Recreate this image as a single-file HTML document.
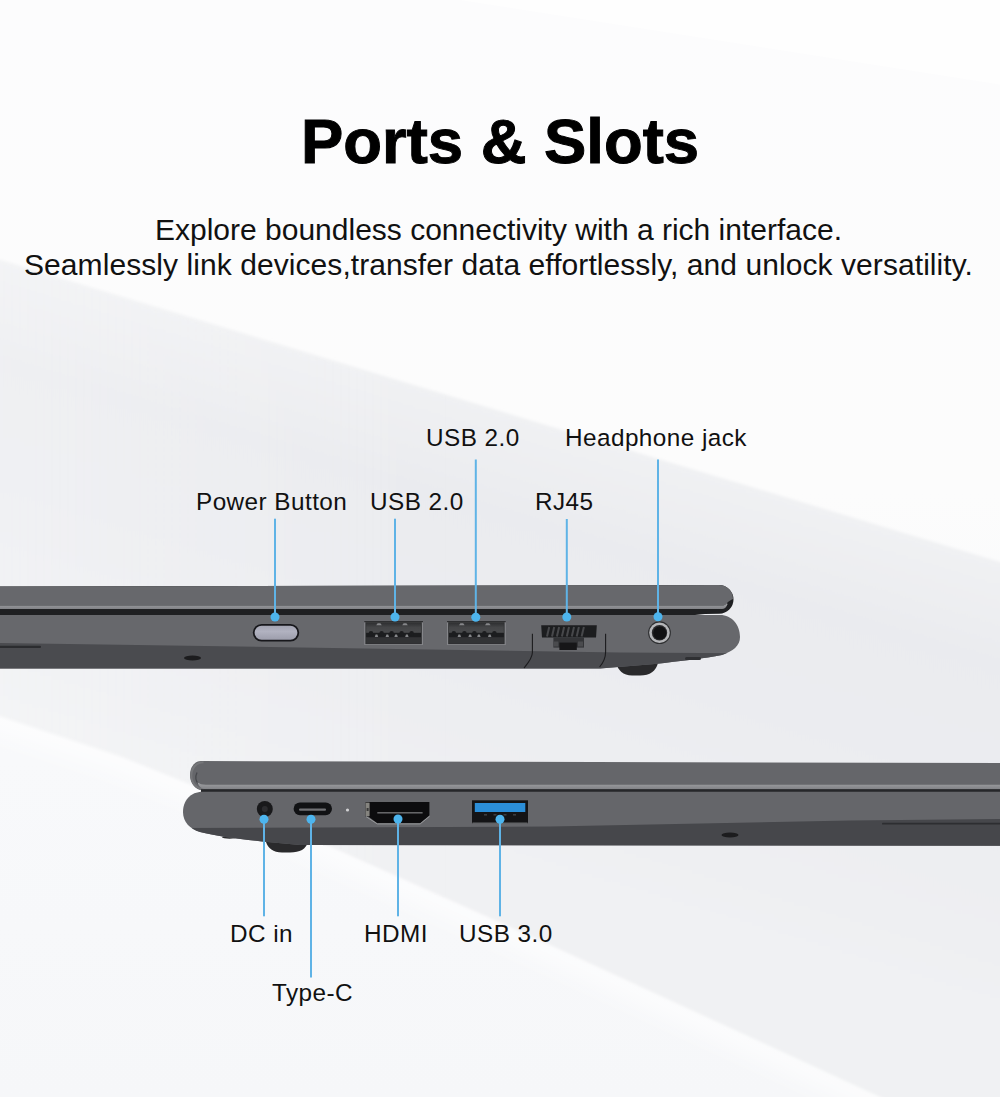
<!DOCTYPE html>
<html>
<head>
<meta charset="utf-8">
<style>
html,body{margin:0;padding:0;}
body{width:1000px;height:1097px;overflow:hidden;position:relative;background:#f7f7f8;font-family:"Liberation Sans",sans-serif;color:#0d0d0d;}
#bg{position:absolute;left:0;top:0;}
.t{position:absolute;white-space:nowrap;}
.title{left:0;width:1000px;text-align:center;top:110.3px;font-size:63.4px;line-height:63.4px;font-weight:bold;color:#000;-webkit-text-stroke:1px #000;}
.sub{left:0;width:997px;text-align:center;font-size:30px;line-height:30px;color:#111;}
.lb{font-size:24.3px;line-height:24.3px;letter-spacing:0.45px;color:#111;}
#lap{position:absolute;left:0;top:0;}
</style>
</head>
<body>
<svg id="bg" width="1000" height="1097" viewBox="0 0 1000 1097">
  <defs>
    <filter id="soft" x="-10%" y="-10%" width="120%" height="120%"><feGaussianBlur stdDeviation="1.5"/></filter>
    <filter id="glow" x="-20%" y="-20%" width="140%" height="140%"><feGaussianBlur stdDeviation="10"/></filter>
    <linearGradient id="bgg" x1="0" y1="0" x2="0" y2="1">
      <stop offset="0" stop-color="#fcfcfd"/><stop offset="0.45" stop-color="#fcfcfc"/><stop offset="0.69" stop-color="#f8f9fb"/><stop offset="1" stop-color="#f6f7f9"/>
    </linearGradient>
    <linearGradient id="grg" gradientUnits="userSpaceOnUse" x1="500" y1="411" x2="375" y2="822">
      <stop offset="0" stop-color="#f0f1f3"/><stop offset="0.22" stop-color="#eaebef"/><stop offset="0.5" stop-color="#ebecf0"/><stop offset="0.85" stop-color="#eeeff2"/><stop offset="1" stop-color="#f0f1f3"/>
    </linearGradient>
    <linearGradient id="lft" gradientUnits="userSpaceOnUse" x1="0" y1="0" x2="450" y2="0">
      <stop offset="0" stop-color="#ffffff" stop-opacity="0.22"/><stop offset="1" stop-color="#ffffff" stop-opacity="0"/>
    </linearGradient>
  </defs>
  <rect x="0" y="0" width="1000" height="1097" fill="url(#bgg)"/>
  <polygon points="460,0 1010,0 1010,86" fill="#fefefe"/>
  <polyline points="-30,706 0,716 120,756 200,788 550,945 880,1097 1030,1165" stroke="#ffffff" stroke-opacity="0.6" stroke-width="36" fill="none" filter="url(#glow)"/>
  <polygon points="-30,251 1030,571 1030,1165 880,1097 550,945 200,788 120,756 0,716 -30,706" fill="url(#grg)" filter="url(#soft)"/>
  <polygon points="-30,251 1030,571 1030,1165 880,1097 550,945 200,788 120,756 0,716 -30,706" fill="url(#lft)" filter="url(#soft)"/>
</svg>

<div class="t title">Ports &amp; Slots</div>
<div class="t sub" style="top:215px">Explore boundless connectivity with a rich interface.</div>
<div class="t sub" style="top:250px;letter-spacing:0.07px">Seamlessly link devices,transfer data effortlessly, and unlock versatility.</div>

<div class="t lb" style="left:426px;top:426.2px">USB 2.0</div>
<div class="t lb" style="left:565px;top:426.2px">Headphone jack</div>
<div class="t lb" style="left:196px;top:490.4px">Power Button</div>
<div class="t lb" style="left:370px;top:490.4px">USB 2.0</div>
<div class="t lb" style="left:535px;top:490.4px">RJ45</div>
<div class="t lb" style="left:230px;top:922.2px">DC in</div>
<div class="t lb" style="left:364px;top:922.2px">HDMI</div>
<div class="t lb" style="left:459px;top:922.2px">USB 3.0</div>
<div class="t lb" style="left:272px;top:981.1px">Type-C</div>

<svg id="lap" width="1000" height="1097" viewBox="0 0 1000 1097">
<defs>
  <linearGradient id="usbg" x1="0" y1="0" x2="0" y2="1"><stop offset="0" stop-color="#2f3032"/><stop offset="0.45" stop-color="#454648"/><stop offset="1" stop-color="#4a4b4d"/></linearGradient>
  <linearGradient id="pbg" x1="0" y1="0" x2="0" y2="1"><stop offset="0" stop-color="#a3a4b2"/><stop offset="0.4" stop-color="#b1b2c0"/><stop offset="1" stop-color="#9d9eac"/></linearGradient>
  <linearGradient id="hl" x1="0" y1="0" x2="0" y2="1"><stop offset="0" stop-color="#a2a3a6"/><stop offset="1" stop-color="#818286"/></linearGradient>
  <clipPath id="baseTop"><path d="M-5,615 H720 C732,615 740,625 740,637 C740,646 733,651 722,655 C705,658.5 680,661 655,664 L600,668.5 H-5 Z"/></clipPath>
  <clipPath id="baseBot"><path d="M1005,791.8 H203 C190,791.8 183,801 183,812 C183,822 190,829 200,832 C215,836 240,839 262,841.5 L300,845 L1005,845.8 Z"/></clipPath>
</defs>
<!-- ===== TOP LAPTOP ===== -->
<!-- foot -->
<path d="M616,663 H658 C656,671 650,675.5 640,675.5 H632 C623,675.5 618,670 616,663 Z" fill="#2a2a2c"/>
<!-- lid dark -->
<path d="M-5,586.5 L719,585 A14.5,14.5 0 0 1 733.5,599.5 A14.2,14.2 0 0 1 719.3,613.7 L705,614 L690,615.5 H-5 Z" fill="#1f2022"/>
<!-- lid upper -->
<path d="M-5,586.5 L719,585 A14,14 0 0 1 733,599 C731,600 728.5,601 727,603 C725.5,605 724,605.5 722,605.5 H-5 Z" fill="#67686c"/>
<!-- lid highlight -->
<path d="M-5,605.5 H722 C724,605.5 725.5,605 727,603 L727.5,604.5 C726,607.5 724.5,609 722,609 H-5 Z" fill="url(#hl)"/>
<!-- base -->
<g clip-path="url(#baseTop)">
  <rect x="-5" y="615" width="760" height="60" fill="#67686c"/>
  <polygon points="-5,643 300,647.5 620,652.5 760,653.3 760,700 -5,700" fill="#4a4b4f"/>
</g>
<rect x="-5" y="645.8" width="46" height="2.2" rx="1" fill="#2b2c2f"/>
<ellipse cx="192.5" cy="658" rx="8.5" ry="2.4" fill="#1c1c1e"/>
<rect x="685" y="657" width="16" height="3" rx="1.5" fill="#2f3033"/>

<!-- power button -->
<rect x="252.8" y="624" width="46.4" height="17.6" rx="8.8" fill="#17171b"/>
<rect x="254.6" y="625.8" width="42.8" height="14" rx="7" fill="url(#pbg)"/>

<!-- USB 2.0 #1 -->
<g>
  <rect x="364.2" y="621" width="58.8" height="24" fill="#85868a"/>
  <rect x="364.2" y="621" width="58.8" height="1.3" fill="#2e2f31"/>
  <rect x="365.4" y="622.2" width="56.4" height="21.9" fill="#2c2d2f"/>
  <rect x="366.2" y="623" width="54.8" height="10" fill="url(#usbg)"/>
  <rect x="366.2" y="637" width="54.8" height="6.6" fill="#323335"/>
  <rect x="366.2" y="632.8" width="54.8" height="4.4" fill="#1c1d1f"/>
  <g fill="#1c1d1f"><circle cx="371" cy="633.4" r="2.3"/><circle cx="381.6" cy="633.4" r="2.3"/><circle cx="391.6" cy="633.4" r="2.3"/><circle cx="401.6" cy="633.4" r="2.3"/><circle cx="411.6" cy="633.4" r="2.3"/></g>
  <g fill="#86878a">
    <path d="M374.8,637 L375.6,634.4 H377.4 L378.2,637 Z"/>
    <path d="M385.6,637 L386.4,634.4 H388.2 L389,637 Z"/>
    <path d="M394.4,637 L395.2,634.4 H397 L397.8,637 Z"/>
    <path d="M405.2,637 L406,634.4 H407.8 L408.6,637 Z"/>
    <path d="M376.2,625.2 L377.6,623.2 H380.4 L381.8,625.2 Z"/>
    <path d="M402.2,625.2 L403.6,623.2 H406.4 L407.8,625.2 Z"/>
  </g>
</g>
<!-- USB 2.0 #2 -->
<g transform="translate(82.8,0)">
  <rect x="364.2" y="621" width="58.8" height="24" fill="#85868a"/>
  <rect x="364.2" y="621" width="58.8" height="1.3" fill="#2e2f31"/>
  <rect x="365.4" y="622.2" width="56.4" height="21.9" fill="#2c2d2f"/>
  <rect x="366.2" y="623" width="54.8" height="10" fill="url(#usbg)"/>
  <rect x="366.2" y="637" width="54.8" height="6.6" fill="#323335"/>
  <rect x="366.2" y="632.8" width="54.8" height="4.4" fill="#1c1d1f"/>
  <g fill="#1c1d1f"><circle cx="371" cy="633.4" r="2.3"/><circle cx="381.6" cy="633.4" r="2.3"/><circle cx="391.6" cy="633.4" r="2.3"/><circle cx="401.6" cy="633.4" r="2.3"/><circle cx="411.6" cy="633.4" r="2.3"/></g>
  <g fill="#86878a">
    <path d="M374.8,637 L375.6,634.4 H377.4 L378.2,637 Z"/>
    <path d="M385.6,637 L386.4,634.4 H388.2 L389,637 Z"/>
    <path d="M394.4,637 L395.2,634.4 H397 L397.8,637 Z"/>
    <path d="M405.2,637 L406,634.4 H407.8 L408.6,637 Z"/>
    <path d="M376.2,625.2 L377.6,623.2 H380.4 L381.8,625.2 Z"/>
    <path d="M402.2,625.2 L403.6,623.2 H406.4 L407.8,625.2 Z"/>
  </g>
</g>
<!-- RJ45 -->
<g>
  <path d="M532.4,633.8 V652.4 C532.4,658 528,663 524,668" fill="none" stroke="#1c1c1e" stroke-width="1.1"/>
  <path d="M605.6,633.8 V652 C605.6,658 603,663 599.6,667" fill="none" stroke="#1c1c1e" stroke-width="1.1"/>
  <path d="M541.2,625.2 H596.8 L596,637.6 H542 Z" fill="#1c1d1f"/>
  <g stroke="#47484b" stroke-width="2">
    <line x1="549.2" y1="627" x2="547.0" y2="636.4"/>
    <line x1="554.2" y1="627" x2="552.0" y2="636.4"/>
    <line x1="559.1" y1="627" x2="556.9" y2="636.4"/>
    <line x1="564.1" y1="627" x2="561.9" y2="636.4"/>
    <line x1="569.0" y1="627" x2="566.8" y2="636.4"/>
    <line x1="574.0" y1="627" x2="571.8" y2="636.4"/>
    <line x1="578.9" y1="627" x2="576.7" y2="636.4"/>
    <line x1="583.9" y1="627" x2="581.6" y2="636.4"/>
  </g>
  <rect x="553.4" y="637.4" width="30.6" height="10.2" fill="#333437"/>
  <rect x="553.4" y="641.5" width="5" height="5" fill="#4a4b4e"/>
  <rect x="578" y="641.5" width="5" height="5" fill="#4a4b4e"/>
  <rect x="559.4" y="642.6" width="17.4" height="7.4" fill="#161618"/>
</g>
<!-- headphone -->
<circle cx="659.5" cy="632.7" r="11.4" fill="#2e2f31"/>
<circle cx="659.5" cy="632.7" r="10.3" fill="#b5b6b9"/>
<circle cx="659.5" cy="632.7" r="7.7" fill="#2a2a2c"/>
<circle cx="659.8" cy="633" r="6.6" fill="#111113"/>

<!-- ===== BOTTOM LAPTOP ===== -->
<!-- foot -->
<path d="M266,842 H308 C306,849 300,852.5 290,852.5 H282 C273,852.5 268,848 266,842 Z" fill="#2a2a2c"/>
<!-- lid -->
<path d="M1005,763 L201,761 C194,761 190,768 190,775 C190,783 195,790 203,790.5 H1005 Z" fill="#65666a"/>
<path d="M203.5,762.2 C196,762.2 191.3,768.5 191.3,775.8 C191.3,783 196.5,789 204,789.4" fill="none" stroke="#757679" stroke-width="2"/>
<path d="M197,772.5 C195.2,776.5 195.6,781 198.6,784.2" fill="none" stroke="#47484c" stroke-width="1.3"/>
<path d="M1005,784.8 H206 C202,784.8 199.5,784 197.5,782.3 C198.5,786.5 201.5,789.2 206,789.2 H1005 Z" fill="url(#hl)"/>
<rect x="201" y="789.2" width="804" height="2.8" fill="#26272a"/>
<ellipse cx="229.5" cy="837.2" rx="7.5" ry="1.5" fill="#2a2a2c"/>
<!-- base -->
<g clip-path="url(#baseBot)">
  <rect x="180" y="790" width="830" height="60" fill="#65666a"/>
  <polygon points="170,828 550,826.5 850,820.5 1005,819 1005,860 170,860" fill="#46474b"/>
</g>
<rect x="882" y="822.8" width="123" height="1.8" rx="0.9" fill="#2d2e31"/>
<ellipse cx="730" cy="835" rx="8.5" ry="2.4" fill="#1c1c1e"/>
<!-- DC -->
<circle cx="264.8" cy="809" r="8" fill="#19191b"/>
<circle cx="264.8" cy="809" r="3" fill="#2c2c2f"/>
<!-- Type-C -->
<rect x="293.6" y="802.4" width="38.4" height="12.8" rx="6.4" fill="#111214"/>
<rect x="299" y="808.5" width="27" height="2.2" rx="1" fill="#707174"/>
<circle cx="347.5" cy="810" r="1.6" fill="#d2d2d4"/>
<!-- HDMI -->
<path d="M365.6,802.1 H429.4 V815.6 L420,823.3 H377.3 L368.3,816.4 H365.6 Z" fill="#0c0c0e"/>
<rect x="365.6" y="802.6" width="4" height="13.6" fill="#85847f"/>
<rect x="366.6" y="808" width="2" height="3" fill="#3a3a3a"/>
<path d="M366,816.6 L377.3,823.9 H420.2 L429.6,816.2" fill="none" stroke="#98999b" stroke-width="1"/>
<rect x="377.3" y="812.1" width="45.3" height="1.4" fill="#6e6f72"/>
<!-- USB 3.0 -->
<rect x="472" y="800.3" width="56" height="23" fill="#141416"/>
<rect x="474.8" y="803" width="50.5" height="9" fill="#2b8ed8"/>
<rect x="472.5" y="822.6" width="55" height="0.9" fill="#77787b"/>
<g fill="#3b3c3f"><rect x="484" y="814" width="3" height="1.6"/><rect x="493.5" y="814" width="3" height="1.6"/><rect x="503.5" y="814" width="3" height="1.6"/><rect x="513" y="814" width="3" height="1.6"/></g>

<!-- ===== CALLOUT LINES ===== -->
<g fill="#5fb3e6">
  <rect x="274" y="518.7" width="2" height="98"/>
  <rect x="394" y="518.7" width="2" height="98"/>
  <rect x="474.8" y="459.5" width="2" height="157"/>
  <rect x="565.8" y="519" width="2" height="98"/>
  <rect x="657" y="459.5" width="2" height="157"/>
  <rect x="263" y="819" width="2" height="97.3"/>
  <rect x="310" y="819" width="2" height="158.5"/>
  <rect x="397" y="819" width="2" height="97.3"/>
  <rect x="499" y="819" width="2" height="97.3"/>
</g>
<g fill="#4db5ee">
  <circle cx="275" cy="617" r="4.5"/>
  <circle cx="395" cy="617" r="4.5"/>
  <circle cx="475.8" cy="617.3" r="4.5"/>
  <circle cx="566.8" cy="617" r="4.5"/>
  <circle cx="658" cy="616.7" r="4.5"/>
  <circle cx="264" cy="819.2" r="4.5"/>
  <circle cx="311" cy="819.2" r="4.5"/>
  <circle cx="398" cy="819" r="4.5"/>
  <circle cx="500" cy="819.2" r="4.5"/>
</g>

</svg>
</body>
</html>
